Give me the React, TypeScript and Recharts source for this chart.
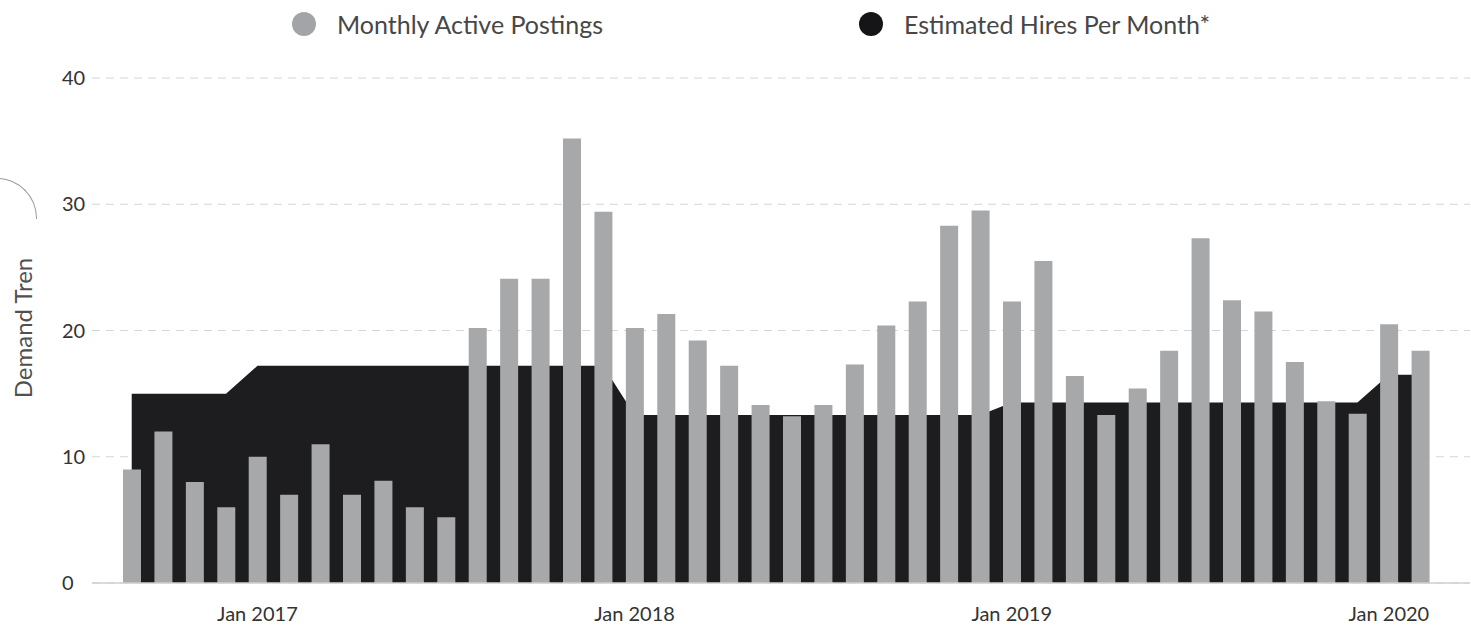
import React from 'react';
import { ComposedChart, Bar, Area, XAxis, YAxis, CartesianGrid } from 'recharts';

const months = [
  'Sep 2016', 'Oct 2016', 'Nov 2016', 'Dec 2016',
  'Jan 2017', 'Feb 2017', 'Mar 2017', 'Apr 2017', 'May 2017', 'Jun 2017',
  'Jul 2017', 'Aug 2017', 'Sep 2017', 'Oct 2017', 'Nov 2017', 'Dec 2017',
  'Jan 2018', 'Feb 2018', 'Mar 2018', 'Apr 2018', 'May 2018', 'Jun 2018',
  'Jul 2018', 'Aug 2018', 'Sep 2018', 'Oct 2018', 'Nov 2018', 'Dec 2018',
  'Jan 2019', 'Feb 2019', 'Mar 2019', 'Apr 2019', 'May 2019', 'Jun 2019',
  'Jul 2019', 'Aug 2019', 'Sep 2019', 'Oct 2019', 'Nov 2019', 'Dec 2019',
  'Jan 2020', 'Feb 2020',
];

const activePostings = [
  9, 12, 8, 6,
  10, 7, 11, 7, 8.1, 6, 5.2, 20.2, 24.1, 24.1, 35.2, 29.4,
  20.2, 21.3, 19.2, 17.2, 14.1, 13.2, 14.1, 17.3, 20.4, 22.3, 28.3, 29.5,
  22.3, 25.5, 16.4, 13.3, 15.4, 18.4, 27.3, 22.4, 21.5, 17.5, 14.4, 13.4,
  20.5, 18.4,
];

const estimatedHires = [
  15, 15, 15, 15,
  17.2, 17.2, 17.2, 17.2, 17.2, 17.2, 17.2, 17.2, 17.2, 17.2, 17.2, 17.2,
  13.3, 13.3, 13.3, 13.3, 13.3, 13.3, 13.3, 13.3, 13.3, 13.3, 13.3, 13.3,
  14.3, 14.3, 14.3, 14.3, 14.3, 14.3, 14.3, 14.3, 14.3, 14.3, 14.3, 14.3,
  16.5, 16.5,
];

const xTicks = ['Jan 2017', 'Jan 2018', 'Jan 2019', 'Jan 2020'];
const yTicks = [0, 10, 20, 30, 40];

const SERIES_POSTINGS = 'Monthly Active Postings';
const SERIES_HIRES = 'Estimated Hires Per Month*';

const GRAY = '#a7a8aa';
const DARK = '#1d1d1f';
const FONT = 'Lato, "Open Sans", sans-serif';

const data = months.map((m, i) => ({
  month: m,
  postings: activePostings[i],
  hires: estimatedHires[i],
}));

const YTick = (props: any) => {
  const { x, y, payload } = props;
  return (
    <text x={x - 28} y={y} dy={7} textAnchor="start" fontSize={20} fill="#333" fontFamily={FONT}>
      {payload.value}
    </text>
  );
};

const LegendItem = ({ color, label, left }: { color: string; label: string; left: number }) => (
  <div style={{ position: 'absolute', left, top: 11, height: 26, display: 'flex', alignItems: 'center' }}>
    <span style={{ width: 24, height: 24, borderRadius: '50%', background: color, display: 'inline-block' }} />
    <span style={{ marginLeft: 21, fontSize: 25, color: '#474747', fontFamily: FONT }}>{label}</span>
  </div>
);

export default function App() {
  return (
    <div style={{ position: 'fixed', left: 0, top: 0, width: 1471, height: 631, background: '#fff', overflow: 'hidden' }}>
      <LegendItem color="#a2a4a8" label={SERIES_POSTINGS} left={292} />
      <LegendItem color="#151517" label={SERIES_HIRES} left={859} />
      {/* rounded corner left over from the page */}
      <div
        style={{
          position: 'absolute', left: -22, top: 178, width: 58, height: 40,
          borderTop: '1.5px solid #9a9a9a', borderRight: '1.5px solid #9a9a9a',
          borderTopRightRadius: 40,
        }}
      />
      <div
        style={{
          position: 'absolute', left: 22, top: 328, transform: 'translate(-50%, -50%) rotate(-90deg)',
          fontSize: 24, color: '#505050', fontFamily: FONT, whiteSpace: 'nowrap',
        }}
      >
        Demand Tren
      </div>
      <ComposedChart
        width={1471}
        height={631}
        data={data}
        margin={{ top: 78, right: 1, bottom: 18, left: 32 }}
        barCategoryGap={0}
      >
        <CartesianGrid vertical={false} stroke="#d6d6d6" strokeDasharray="8 6" />
        <XAxis
          dataKey="month"
          ticks={xTicks}
          interval={0}
          height={30}
          tickLine={false}
          tickSize={0}
          tickMargin={24}
          axisLine={{ stroke: '#cfcfcf', strokeWidth: 1.5 }}
          padding={{ left: 24, right: 34 }}
          tick={{ fontSize: 20, fill: '#333', fontFamily: FONT }}
        />
        <YAxis
          width={60}
          domain={[0, 40]}
          ticks={yTicks}
          axisLine={false}
          tickLine={false}
          tickSize={0}
          tick={<YTick />}
        />
        <Area
          dataKey="hires"
          name={SERIES_HIRES}
          type="linear"
          stroke="none"
          fill={DARK}
          fillOpacity={1}
          isAnimationActive={false}
        />
        <Bar dataKey="postings" name={SERIES_POSTINGS} fill={GRAY} barSize={18} isAnimationActive={false} />
      </ComposedChart>
    </div>
  );
}
